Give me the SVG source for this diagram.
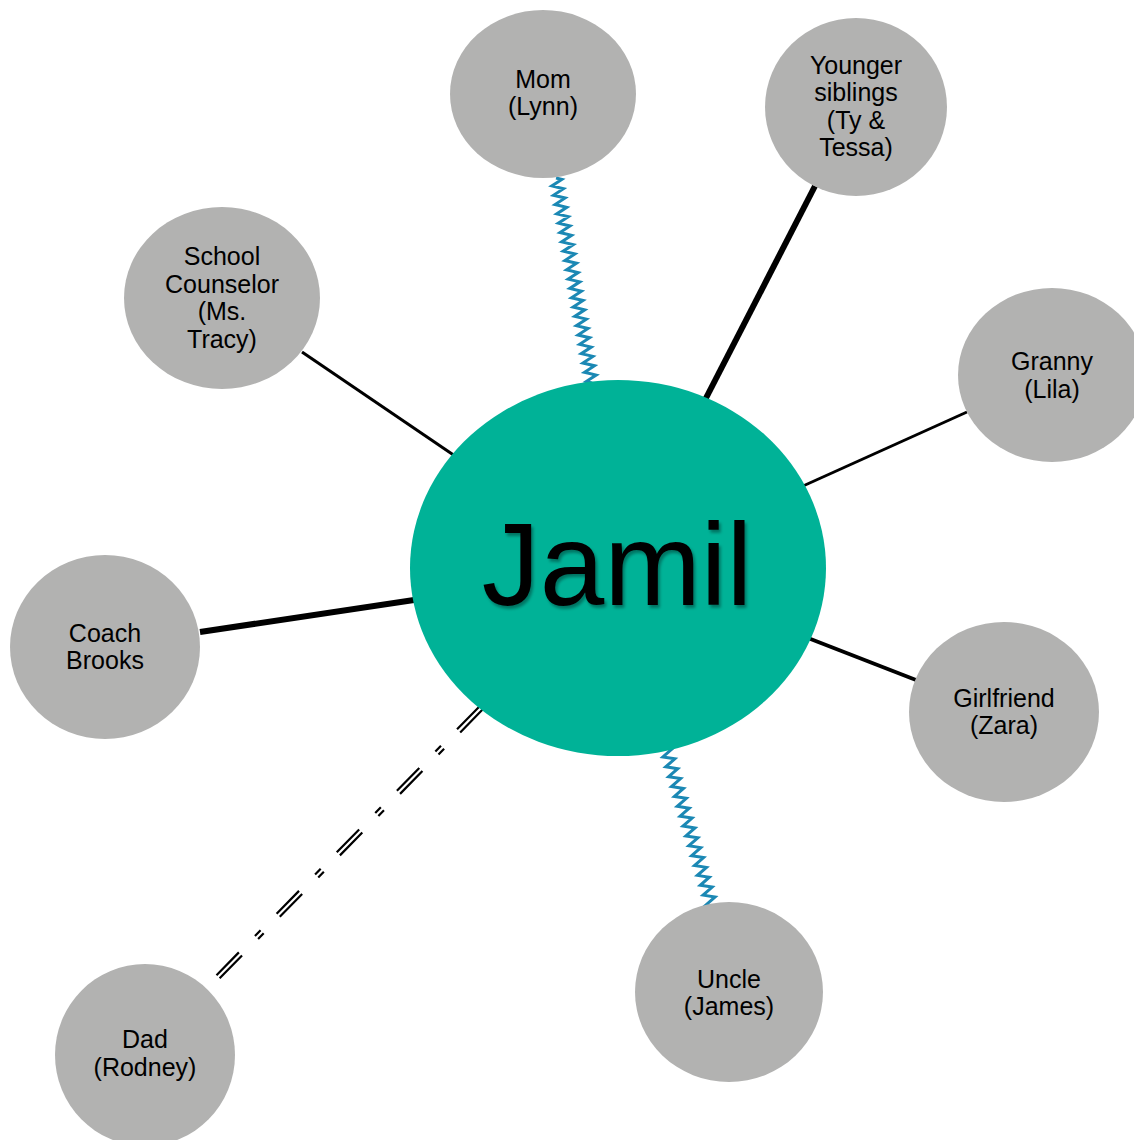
<svg xmlns="http://www.w3.org/2000/svg" width="1134" height="1140" viewBox="0 0 1134 1140">
<style>
.node{fill:#b2b2b1}
.lbl{font-family:"Liberation Sans",Arial,sans-serif;font-size:25px;fill:#000;text-anchor:middle}
.zz{fill:none;stroke:#1b88b4;stroke-width:3;stroke-linejoin:miter}
.ln{stroke:#000;fill:none}
.dd{stroke:#000;stroke-width:2.2;stroke-dasharray:32 23 8 23;fill:none}
</style>
<defs>
<filter id="sh" x="-10%" y="-10%" width="120%" height="130%">
<feDropShadow dx="2" dy="3" stdDeviation="1.5" flood-color="#000" flood-opacity="0.35"/>
</filter>
</defs>
<rect width="1134" height="1140" fill="#fff"/>
<g id="connectors">
<g transform="translate(556,178) rotate(80.04)">
<path class="zz" d="M0,0 l2.37,-5.5 l4.73,11 l4.73,-11 l4.73,11 l4.73,-11 l4.73,11 l4.73,-11 l4.73,11 l4.73,-11 l4.73,11 l4.73,-11 l4.73,11 l4.73,-11 l4.73,11 l4.73,-11 l4.73,11 l4.73,-11 l4.73,11 l4.73,-11 l4.73,11 l4.73,-11 l4.73,11 l4.73,-11 l4.73,11 l4.73,-11 l4.73,11 l4.73,-11 l4.73,11 l4.73,-11 l4.73,11 l4.73,-11 l4.73,11 l4.73,-11 l4.73,11 l4.73,-11 l4.73,11 l4.73,-11 l4.73,11 l4.73,-11 l4.73,11 l4.73,-11 l4.73,11 l4.73,-11 l4.73,11 l2.37,-5.5"/>
</g>
<g transform="translate(666,748) rotate(73.77)">
<path class="zz" d="M0,0 l2.57,-5.5 l5.14,11 l5.14,-11 l5.14,11 l5.14,-11 l5.14,11 l5.14,-11 l5.14,11 l5.14,-11 l5.14,11 l5.14,-11 l5.14,11 l5.14,-11 l5.14,11 l5.14,-11 l5.14,11 l5.14,-11 l5.14,11 l5.14,-11 l5.14,11 l5.14,-11 l5.14,11 l5.14,-11 l5.14,11 l5.14,-11 l5.14,11 l5.14,-11 l5.14,11 l5.14,-11 l5.14,11 l5.14,-11 l5.14,11 l2.57,-5.5"/>
</g>
<line class="ln" x1="815" y1="186" x2="705" y2="400" stroke-width="6"/>
<line class="ln" x1="302" y1="352" x2="455" y2="456" stroke-width="3"/>
<line class="ln" x1="967" y1="412" x2="803" y2="486" stroke-width="3"/>
<line class="ln" x1="200" y1="632" x2="414" y2="600" stroke-width="6"/>
<line class="ln" x1="916" y1="680" x2="808" y2="638" stroke-width="4"/>
<g transform="translate(481,708) rotate(134.37)">
<line class="dd" x1="0" y1="-2.2" x2="383" y2="-2.2"/>
<line class="dd" x1="0" y1="2.2" x2="383" y2="2.2"/>
</g>
</g>
<g id="jamil">
<ellipse cx="618" cy="568" rx="208" ry="188" fill="#00b297"/>
<text x="617" y="605" font-family="'Liberation Sans',Arial,sans-serif" font-size="116" text-anchor="middle" fill="#000" filter="url(#sh)">Jamil</text>
</g>
<g id="mom">
<ellipse class="node" cx="543" cy="94" rx="93" ry="84"/>
<text class="lbl" x="543" y="88">Mom</text>
<text class="lbl" x="543" y="115">(Lynn)</text>
</g>
<g id="siblings">
<ellipse class="node" cx="856" cy="107" rx="91" ry="89"/>
<text class="lbl" x="856" y="74">Younger</text>
<text class="lbl" x="856" y="101">siblings</text>
<text class="lbl" x="856" y="129">(Ty &amp;</text>
<text class="lbl" x="856" y="156">Tessa)</text>
</g>
<g id="counselor">
<ellipse class="node" cx="222" cy="298" rx="98" ry="91"/>
<text class="lbl" x="222" y="265">School</text>
<text class="lbl" x="222" y="293">Counselor</text>
<text class="lbl" x="222" y="320">(Ms.</text>
<text class="lbl" x="222" y="348">Tracy)</text>
</g>
<g id="granny">
<ellipse class="node" cx="1052" cy="375" rx="94" ry="87"/>
<text class="lbl" x="1052" y="370">Granny</text>
<text class="lbl" x="1052" y="398">(Lila)</text>
</g>
<g id="coach">
<ellipse class="node" cx="105" cy="647" rx="95" ry="92"/>
<text class="lbl" x="105" y="642">Coach</text>
<text class="lbl" x="105" y="669">Brooks</text>
</g>
<g id="girlfriend">
<ellipse class="node" cx="1004" cy="712" rx="95" ry="90"/>
<text class="lbl" x="1004" y="707">Girlfriend</text>
<text class="lbl" x="1004" y="734">(Zara)</text>
</g>
<g id="uncle">
<ellipse class="node" cx="729" cy="992" rx="94" ry="90"/>
<text class="lbl" x="729" y="988">Uncle</text>
<text class="lbl" x="729" y="1015">(James)</text>
</g>
<g id="dad">
<ellipse class="node" cx="145" cy="1055" rx="90" ry="91"/>
<text class="lbl" x="145" y="1048">Dad</text>
<text class="lbl" x="145" y="1076">(Rodney)</text>
</g>
</svg>
